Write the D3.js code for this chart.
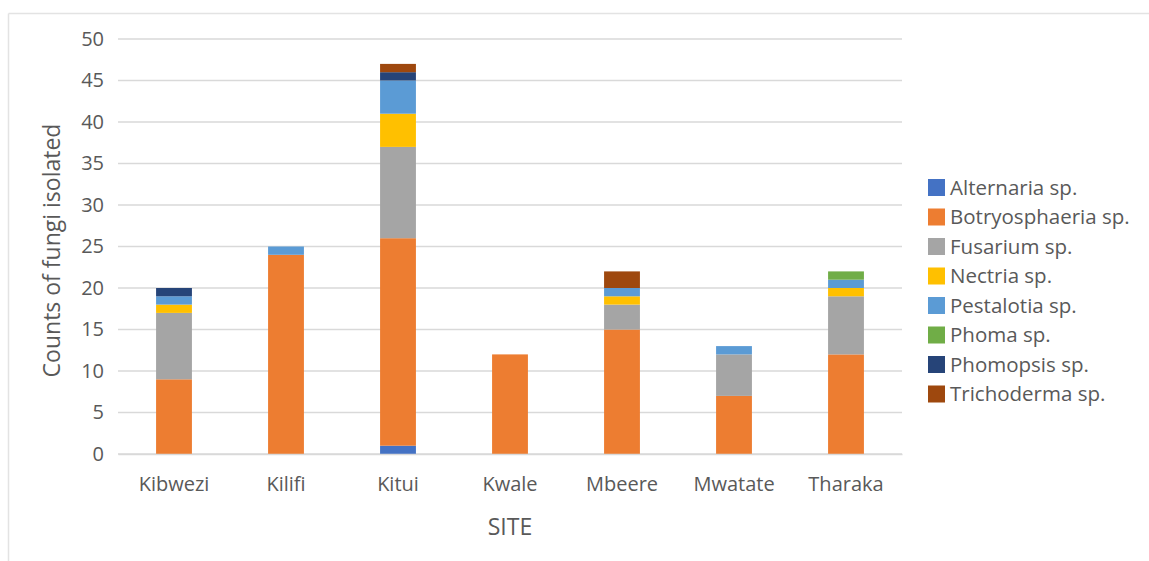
<!DOCTYPE html>
<html>
<head>
<meta charset="utf-8">
<script src="https://cdn.jsdelivr.net/npm/d3@7/dist/d3.min.js"></script>
<style>
  html, body { margin: 0; padding: 0; background: #fff; }
  svg text { font-family: "Open Sans", "Noto Sans", sans-serif; }
</style>
</head>
<body>
<svg id="chart" width="1149" height="561"></svg>
<script>
// Fungal isolates per site, stacked by genus
const sites = ["Kibwezi", "Kilifi", "Kitui", "Kwale", "Mbeere", "Mwatate", "Tharaka"];
const species = ["Alternaria sp.", "Botryosphaeria sp.", "Fusarium sp.", "Nectria sp.",
                 "Pestalotia sp.", "Phoma sp.", "Phomopsis sp.", "Trichoderma sp."];
const colors = ["#4472C4", "#ED7D31", "#A5A5A5", "#FFC000", "#5B9BD5", "#70AD47", "#264478", "#9E480E"];

const alternaria     = [0, 0, 1, 0, 0, 0, 0];
const botryosphaeria = [9, 24, 25, 12, 15, 7, 12];
const fusarium       = [8, 0, 11, 0, 3, 5, 7];
const nectria        = [1, 0, 4, 0, 1, 0, 1];
const pestalotia     = [1, 1, 4, 0, 1, 1, 1];
const phoma          = [0, 0, 0, 0, 0, 0, 1];
const phomopsis      = [1, 0, 1, 0, 0, 0, 0];
const trichoderma    = [0, 0, 1, 0, 2, 0, 0];

const yTicks = [0, 5, 10, 15, 20, 25, 30, 35, 40, 45, 50];

const seriesValues = [alternaria, botryosphaeria, fusarium, nectria, pestalotia, phoma, phomopsis, trichoderma];
const table = sites.map((s, i) => {
  const row = { site: s };
  species.forEach((sp, k) => { row[sp] = seriesValues[k][i]; });
  return row;
});

const svg = d3.select("#chart");

// outer frame (top and left edges)
svg.append("line").attr("x1", 8.5).attr("x2", 1149).attr("y1", 13.5).attr("y2", 13.5)
  .attr("stroke", "#e3e3e3").attr("stroke-width", 1.5);
svg.append("line").attr("x1", 8.5).attr("x2", 8.5).attr("y1", 13.5).attr("y2", 561)
  .attr("stroke", "#e3e3e3").attr("stroke-width", 1.5);

const plot = { left: 118, right: 902, top: 39, bottom: 454 };

const x = d3.scaleBand().domain(sites).range([plot.left, plot.right])
  .paddingInner(0.68).paddingOuter(0.34);
const y = d3.scaleLinear().domain([0, 50]).range([plot.bottom, plot.top]);

// gridlines
svg.append("g").selectAll("line").data(yTicks).join("line")
  .attr("x1", plot.left).attr("x2", plot.right)
  .attr("y1", d => y(d)).attr("y2", d => y(d))
  .attr("stroke", "#d9d9d9").attr("stroke-width", 1.3);

// y axis labels
const yAxis = svg.append("g").attr("transform", `translate(${plot.left},0)`)
  .call(d3.axisLeft(y).tickValues(yTicks).tickSize(0).tickPadding(14));
yAxis.select(".domain").remove();
yAxis.selectAll("text").attr("fill", "#595959").style("font-size", "20px");

// stacked bars
const stack = d3.stack().keys(species);
const layers = stack(table);
svg.append("g").selectAll("g").data(layers).join("g")
  .attr("fill", (d, i) => colors[i])
  .selectAll("rect").data(d => d).join("rect")
  .attr("x", d => x(d.data.site))
  .attr("width", x.bandwidth())
  .attr("y", d => y(d[1]))
  .attr("height", d => y(d[0]) - y(d[1]));

// x axis
const xAxis = svg.append("g").attr("transform", `translate(0,${plot.bottom})`)
  .call(d3.axisBottom(x).tickSize(0).tickPadding(23));
xAxis.select(".domain").attr("stroke", "#d9d9d9").attr("stroke-width", 1.3);
xAxis.selectAll("text").attr("fill", "#595959").style("font-size", "20px");

// axis titles
svg.append("text").attr("x", 510).attr("y", 535)
  .attr("text-anchor", "middle").attr("fill", "#595959").style("font-size", "23px")
  .text("SITE");
svg.append("text").attr("transform", `translate(60,${(plot.top + plot.bottom) / 2 + 4}) rotate(-90)`)
  .attr("text-anchor", "middle").attr("fill", "#595959").style("font-size", "23px")
  .text("Counts of fungi isolated");

// legend
const legend = svg.append("g").attr("transform", "translate(928,179)");
const item = legend.selectAll("g").data(species).join("g")
  .attr("transform", (d, i) => `translate(0,${i * 29.5})`);
item.append("rect").attr("width", 17).attr("height", 17).attr("fill", (d, i) => colors[i]);
item.append("text").attr("x", 22).attr("y", 8.5).attr("dy", "0.36em")
  .attr("fill", "#595959").style("font-size", "20.5px").text(d => d);
</script>
</body>
</html>
